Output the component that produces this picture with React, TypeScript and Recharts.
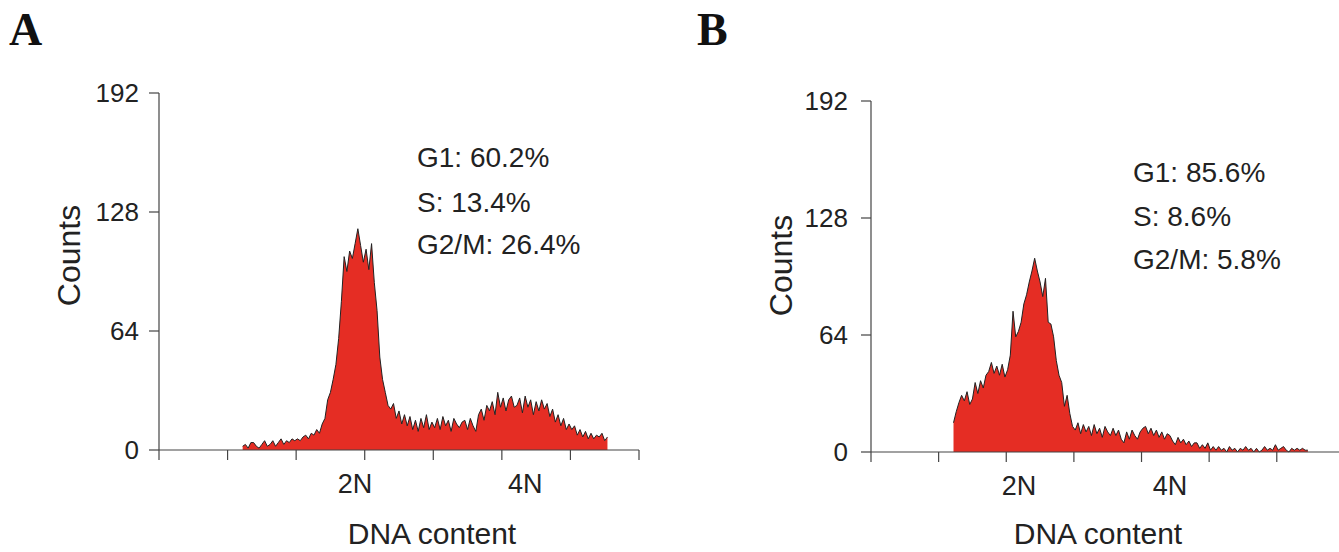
import React from 'react';
import { AreaChart, Area, XAxis, YAxis } from 'recharts';

// DNA histograms, flow cytometry (counts per channel bin)
const binStart = 1.22;
const binStep = 0.04;

const countsA = [
  2, 3, 1, 4, 4, 2, 1, 3, 5, 2,
  3, 5, 2, 4, 6, 3, 5, 4, 6, 5,
  6, 5, 7, 8, 6, 9, 8, 11, 9, 14,
  17, 27, 31, 38, 46, 60, 80, 104, 96, 107,
  103, 111, 119, 110, 101, 108, 97, 111, 90, 75,
  50, 38, 31, 24, 22, 25, 17, 21, 14, 19,
  13, 18, 11, 16, 10, 17, 12, 19, 11, 15,
  12, 17, 11, 18, 13, 16, 10, 17, 14, 12,
  15, 16, 11, 17, 13, 10, 19, 22, 16, 24,
  21, 26, 19, 31, 23, 28, 21, 27, 29, 23,
  24, 28, 20, 29, 23, 27, 19, 26, 21, 27,
  22, 25, 18, 22, 15, 19, 13, 17, 11, 14,
  11, 13, 8, 11, 7, 10, 6, 9, 6, 8,
  7, 9, 5, 7,
];

const countsB = [
  16, 22, 27, 31, 28, 33, 26, 29, 38, 32,
  39, 35, 42, 44, 49, 43, 47, 42, 48, 41,
  45, 53, 77, 63, 66, 71, 81, 86, 93, 99,
  106, 99, 93, 85, 95, 71, 70, 63, 50, 42,
  38, 25, 31, 21, 14, 12, 16, 10, 15, 11,
  14, 9, 15, 10, 13, 8, 14, 11, 9, 13,
  9, 12, 7, 5, 11, 7, 12, 9, 7, 11,
  13, 14, 10, 13, 9, 12, 8, 11, 7, 10,
  9, 6, 4, 8, 5, 7, 4, 6, 3, 5,
  5, 2, 4, 2, 5, 1, 3, 1, 3, 1,
  2, 0, 3, 1, 2, 0, 2, 1, 3, 1,
  2, 0, 2, 0, 1, 3, 1, 2, 1, 4,
  1, 2, 3, 1, 0, 2, 1, 2, 1, 2,
  1, 1,
];

const yTicks = [0, 64, 128, 192];
const xTicksA = [0, 1, 2, 3, 4, 5, 6, 7];
const xTicksB = [0, 1, 2, 3, 4, 5, 6];
const ploidyNames = ['2N', '4N'];
const ploidyPosA = [2.86, 5.34];
const ploidyPosB = [2.19, 4.42];
const phaseNames = ['G1', 'S', 'G2/M'];
const phasesA = [60.2, 13.4, 26.4];
const phasesB = [85.6, 8.6, 5.8];

const FONT = '"Liberation Sans", Arial, sans-serif';
const RED = '#e52d24';
const AXIS = '#444';

const toRows = (counts: number[]) =>
  counts.map((c, i) => ({ x: +(binStart + i * binStep).toFixed(2), count: c }));

type HistProps = {
  counts: number[];
  left: number;
  width: number;
  top: number;
  bottom: number;
  yAxisWidth: number;
  right: number;
  xMax: number;
  xTicks: number[];
  ploidyPos: number[];
  yTickMargin: number;
  countsDy: number;
  titleDx: number;
  titleOffset: number;
};

const Histogram = (p: HistProps) => {
  const data = toRows(p.counts);
  return (
    <div style={{ position: 'absolute', left: p.left, top: 0 }}>
      <AreaChart
        width={p.width}
        height={552}
        data={data}
        margin={{ top: p.top, right: p.right, bottom: 552 - p.bottom - 2, left: 0 }}
      >
        <XAxis
          dataKey="x"
          type="number"
          domain={[0, p.xMax]}
          ticks={p.xTicks}
          height={1}
          tickSize={10}
          tickFormatter={() => ''}
          axisLine={{ stroke: AXIS, strokeWidth: 1.2 }}
          tickLine={{ stroke: AXIS, strokeWidth: 1.2 }}
        />
        <XAxis
          xAxisId="ploidy"
          dataKey="x"
          type="number"
          domain={[0, p.xMax]}
          ticks={p.ploidyPos}
          height={1}
          axisLine={false}
          tickLine={false}
          tickSize={0}
          tickMargin={23}
          tickFormatter={(v: number) => ploidyNames[p.ploidyPos.indexOf(v)] ?? ''}
          tick={{ fontSize: 27, fill: '#222', fontFamily: FONT }}
          label={{
            value: 'DNA content',
            position: 'bottom',
            offset: p.titleOffset,
            dx: p.titleDx,
            style: { fontSize: 30, fill: '#222', fontFamily: FONT },
          }}
        />
        <YAxis
          type="number"
          domain={[0, 192]}
          ticks={yTicks}
          width={p.yAxisWidth}
          tickSize={10}
          tickMargin={p.yTickMargin}
          axisLine={{ stroke: AXIS, strokeWidth: 1.2 }}
          tickLine={{ stroke: AXIS, strokeWidth: 1.2 }}
          tick={{ fontSize: 26, fill: '#222', fontFamily: FONT }}
          label={{
            value: 'Counts',
            angle: -90,
            position: 'insideLeft',
            offset: p.yAxisWidth - 90,
            dy: p.countsDy,
            style: { fontSize: 32, fill: '#222', fontFamily: FONT, textAnchor: 'middle' },
          }}
        />
        <Area
          dataKey="count"
          type="linear"
          stroke="#222"
          strokeWidth={1}
          fill={RED}
          fillOpacity={1}
          dot={false}
          activeDot={false}
          isAnimationActive={false}
        />
      </AreaChart>
    </div>
  );
};

const PhaseText = ({ x, ys, values }: { x: number; ys: number[]; values: number[] }) => (
  <g fontFamily={FONT} fontSize={28} fill="#222">
    {phaseNames.map((n, i) => (
      <text key={n} x={x} y={ys[i]}>{`${n}: ${values[i]}%`}</text>
    ))}
  </g>
);

export default function App() {
  return (
    <div style={{ position: 'absolute', left: 0, top: 0, width: 1339, height: 552, background: '#fff', overflow: 'hidden' }}>
      <Histogram
        counts={countsA}
        left={0}
        width={660}
        top={93}
        bottom={450}
        yAxisWidth={159}
        right={21}
        xMax={7}
        xTicks={xTicksA}
        ploidyPos={ploidyPosA}
        yTickMargin={10}
        countsDy={-16}
        titleDx={33}
        titleOffset={71}
      />
      <Histogram
        counts={countsB}
        left={680}
        width={659}
        top={101}
        bottom={452}
        yAxisWidth={191}
        right={0}
        xMax={6.92}
        xTicks={xTicksB}
        ploidyPos={ploidyPosB}
        yTickMargin={13}
        countsDy={-11}
        titleDx={-7}
        titleOffset={69}
      />
      <svg width={1339} height={552} style={{ position: 'absolute', left: 0, top: 0, pointerEvents: 'none' }}>
        <g fontFamily='"Liberation Serif", "Times New Roman", serif' fontWeight="bold" fontSize={46} fill="#111">
          <text x={9} y={45}>A</text>
          <text x={697} y={45}>B</text>
        </g>
        <PhaseText x={417} ys={[167, 212, 254]} values={phasesA} />
        <PhaseText x={1133} ys={[182, 226, 269]} values={phasesB} />
      </svg>
    </div>
  );
}
